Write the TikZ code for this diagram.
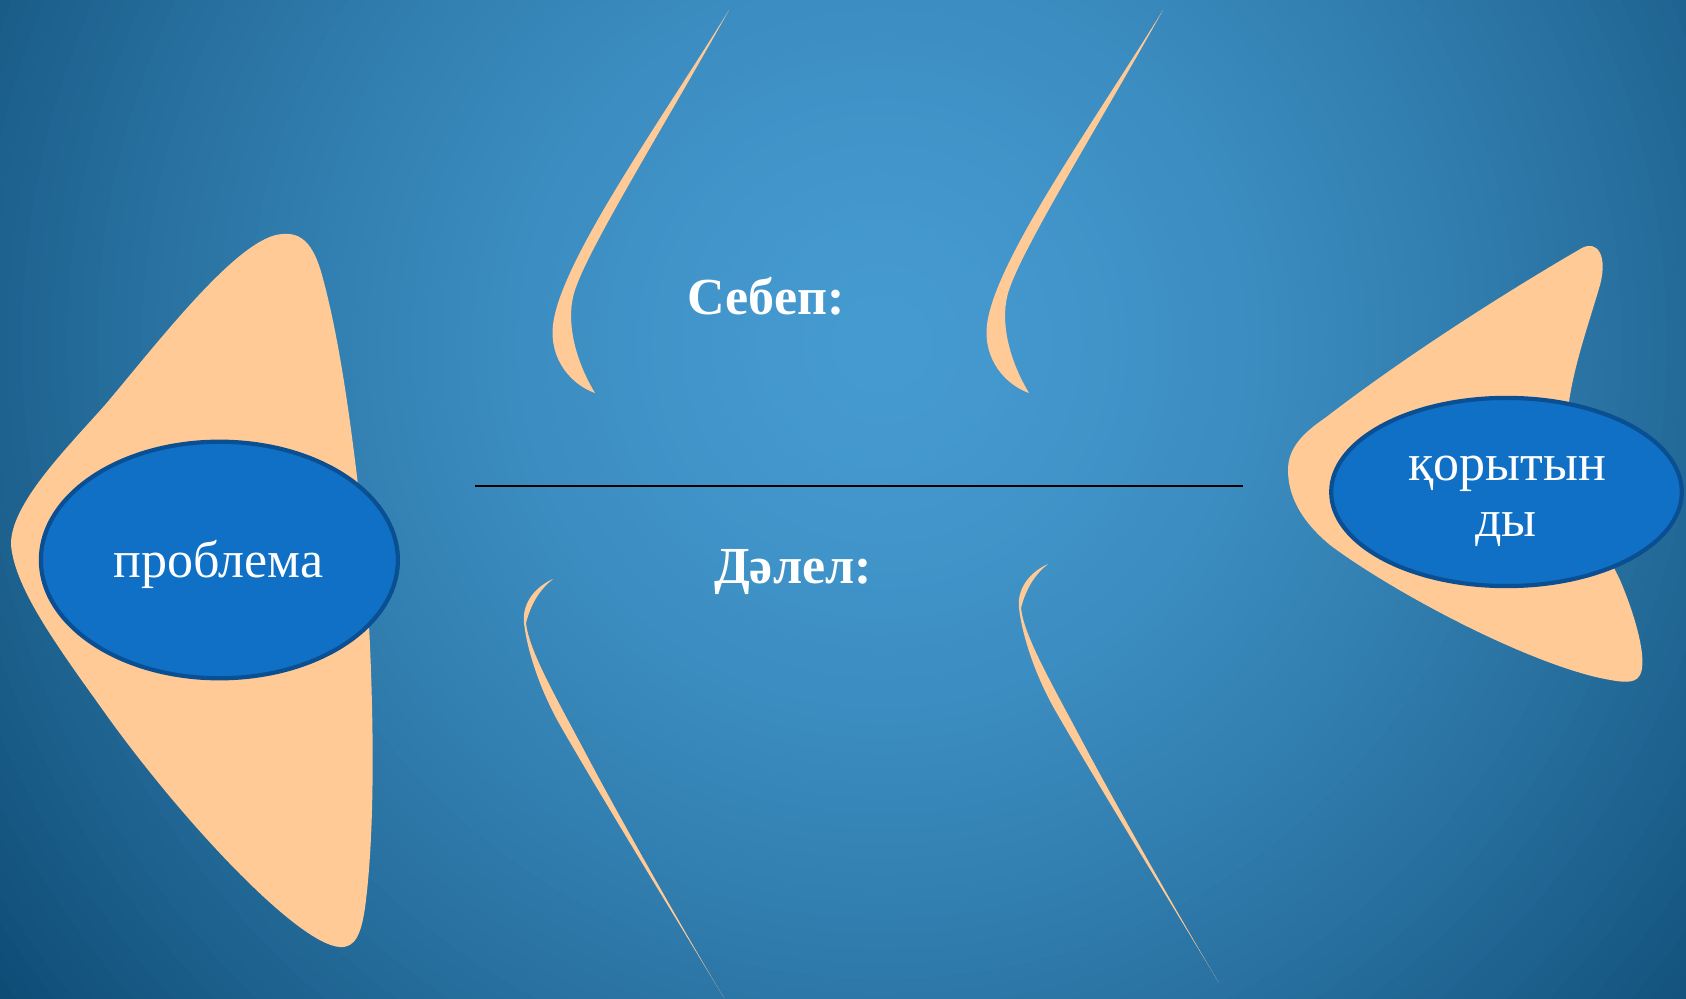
\documentclass[tikz,border=0pt]{standalone}
\usepackage{fontspec}
\setmainfont{Liberation Serif}
\usetikzlibrary{shapes.geometric}
\definecolor{peach}{HTML}{FFCA96}
\definecolor{ellfill}{HTML}{1070C6}
\definecolor{elledge}{HTML}{0A4F92}
\definecolor{bgA}{HTML}{459AD0}
\definecolor{bgF}{HTML}{0E4C75}
\tikzset{
  ell/.style={ellipse, draw=elledge, fill=ellfill, line width=2.1pt, inner sep=0pt, outer sep=0pt},
  lbl/.style={text=white, font=\fontsize{26pt}{28pt}\selectfont, inner sep=0pt},
  hd/.style={text=white, font=\bfseries\fontsize{26pt}{28pt}\selectfont, inner sep=0pt},
  spine/.style={draw=black, line width=0.75pt},
  upbone/.pic={
    \fill[peach] (729,10) .. controls (660,122) and (560,262) .. (553,325)
      .. controls (549,360) and (572,385) .. (595,393)
      .. controls (575,360) and (565,320) .. (575,290)
      .. controls (590,245) and (665,125) .. (729,10) -- cycle;
  },
  lowbone/.pic={
    \fill[peach] (553,579) .. controls (533,588) and (522,605) .. (524,623)
      .. controls (527,650) and (540,690) .. (560,725)
      .. controls (600,795) and (680,925) .. (724,998)
      .. controls (692,945) and (618,815) .. (585,752)
      .. controls (553,692) and (529,650) .. (526,623)
      .. controls (532,600) and (542,588) .. (553,579) -- cycle;
  }
}
\begin{document}
\begin{tikzpicture}[x=0.5pt,y=-0.5pt]
\useasboundingbox (0,0) rectangle (1686,999);
\begin{scope}
  \clip (0,0) rectangle (1686,999);
  \foreach \r in {1130,1115,...,5} {
    \pgfmathsetmacro\p{min(100,100*(\r/1100)^1.6)}
    \fill[bgF!\p!bgA] (882,344) circle[radius=\r];
  }
\end{scope}
% peach fins
\fill[peach] (283,234) .. controls (305,232) and (315,250) .. (322,275)
  .. controls (340,340) and (352,430) .. (362,520)
  .. controls (372,640) and (378,800) .. (366,900)
  .. controls (362,935) and (355,948) .. (340,947)
  .. controls (300,945) and (190,830) .. (110,720)
  .. controls (60,650) and (15,590) .. (11,545)
  .. controls (10,505) and (65,450) .. (105,405)
  .. controls (160,340) and (240,235) .. (283,234) -- cycle;
\fill[peach] (1582,248) .. controls (1597,240) and (1608,255) .. (1600,285)
  .. controls (1590,320) and (1572,370) .. (1568,410)
  .. controls (1565,470) and (1600,540) .. (1620,580)
  .. controls (1635,615) and (1648,660) .. (1640,675)
  .. controls (1635,685) and (1620,682) .. (1600,678)
  .. controls (1520,660) and (1390,590) .. (1330,545)
  .. controls (1300,520) and (1288,495) .. (1288,470)
  .. controls (1288,450) and (1300,435) .. (1325,418)
  .. controls (1420,345) and (1530,278) .. (1582,248) -- cycle;
% ellipses
\node[ell, minimum width=178.5pt, minimum height=118.3pt] (prob) at (219.4,560) {};
\node[ell, minimum width=175.3pt, minimum height=94.1pt] (concl) at (1506.5,492) {};
% bones
\pic at (0,0) {upbone};
\pic at (434,0) {upbone};
\pic at (0,0) {lowbone};
\pic at (495,-15) {lowbone};
% spine
\coordinate (s1) at (475,486);
\coordinate (s2) at (1243,486);
\draw[spine] (s1) -- (s2);
% texts
\node[lbl, anchor=base] (probtext) at (218.5,577) {проблема};
\node[lbl, anchor=base] (concl1) at (1507,481) {қорытын};
\node[lbl, anchor=base] (concl2) at (1506,537) {ды};
\node[hd, anchor=base] (cause) at (766,315) {Себеп:};
\node[hd, anchor=base] (reason) at (793,583) {Дәлел:};
\end{tikzpicture}
\end{document}
